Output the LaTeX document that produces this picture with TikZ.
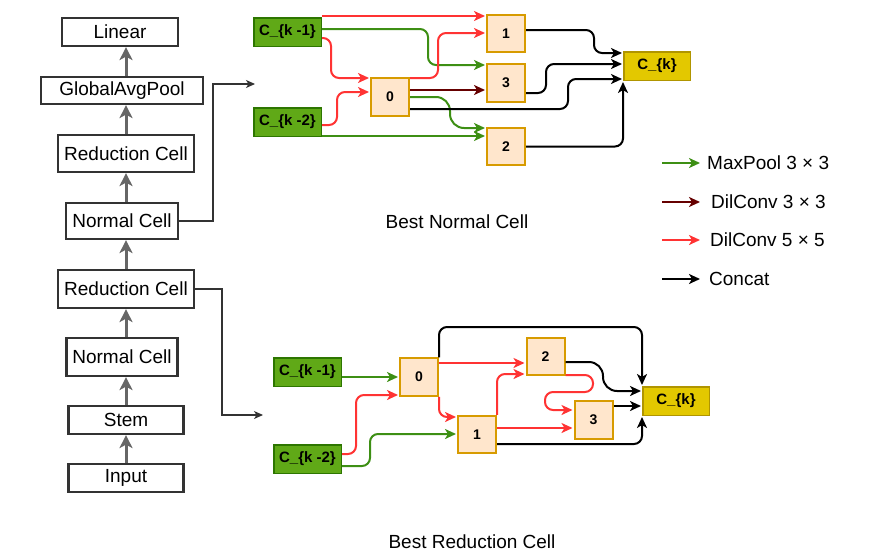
\documentclass[tikz,border=0pt]{standalone}
\usepackage{fontspec}
\setmainfont{Liberation Sans}
\usepackage{xcolor}
\usetikzlibrary{arrows.meta}
\definecolor{boxline}{HTML}{333333}
\definecolor{arrgray}{HTML}{666666}
\definecolor{infill}{HTML}{60A917}
\definecolor{inline}{HTML}{2D7600}
\definecolor{opfill}{HTML}{FFE6CC}
\definecolor{opline}{HTML}{D79B00}
\definecolor{outfill}{HTML}{E3C800}
\definecolor{outline}{HTML}{B09500}
\definecolor{pool}{HTML}{3D8F14}
\definecolor{dil}{HTML}{FF3333}
\definecolor{dildark}{HTML}{660000}

\begin{document}
\begin{tikzpicture}[x=1pt,y=-1pt,
  block/.style={draw=boxline,line width=2.2pt,fill=white,inner sep=0pt,font=\fontsize{19}{22}\selectfont},
  cellin/.style={draw=inline,line width=1.5pt,fill=infill,inner sep=0pt,minimum width=67.5pt,minimum height=28.5pt,font=\bfseries\fontsize{15}{18}\selectfont},
  op/.style={draw=opline,line width=2pt,fill=opfill,inner sep=0pt,minimum width=38pt,minimum height=37.5pt,font=\bfseries\fontsize{14}{17}\selectfont},
  cellout/.style={draw=outline,line width=1.5pt,fill=outfill,inner sep=0pt,minimum width=66.5pt,minimum height=28.5pt,font=\bfseries\fontsize{15}{18}\selectfont},
  tip/.style={-{Stealth[length=11pt,width=10pt,inset=3pt]},shorten >=1pt},
  uparrow/.style={draw=arrgray,line width=3pt,-{Stealth[length=13pt,width=13pt,inset=3.5pt]}},
  feed/.style={draw=boxline,line width=1.2pt,-{Stealth[length=9pt,width=8pt,inset=2.5pt]}},
  gedge/.style={draw=pool,line width=2pt,rounded corners=8pt,tip},
  redge/.style={draw=dil,line width=2pt,rounded corners=8pt,tip},
  dedge/.style={draw=dildark,line width=2pt,rounded corners=8pt,tip},
  kedge/.style={draw=black,line width=2pt,rounded corners=8pt,tip},
  lgtext/.style={anchor=west,inner sep=0pt,font=\fontsize{19}{22}\selectfont},
  title/.style={inner sep=0pt,font=\fontsize{19}{22}\selectfont}]
  \useasboundingbox (0,0) rectangle (873,554);

  % network stack
  \node[block,minimum width=116pt,minimum height=28pt] (linear) at (120,32) {Linear};
  \node[block,minimum width=162pt,minimum height=27pt] (gap) at (122,90.5) {GlobalAvgPool};
  \node[block,minimum width=136pt,minimum height=37pt] (redtop) at (126,153.5) {Reduction Cell};
  \node[block,minimum width=112pt,minimum height=36pt] (normtop) at (122,221) {Normal Cell};
  \node[block,minimum width=136pt,minimum height=38pt] (redlow) at (126,289) {Reduction Cell};
  \node[block,minimum width=111pt,minimum height=38pt] (normlow) at (122,357) {Normal Cell};
  \node[block,minimum width=115pt,minimum height=28pt] (stem) at (126,420) {Stem};
  \node[block,minimum width=115pt,minimum height=28pt] (input) at (126,478) {Input};
  \draw[uparrow] (input.north) -- (input.north |- stem.south);
  \draw[uparrow] (stem.north) -- (stem.north |- normlow.south);
  \draw[uparrow] (stem.north |- normlow.north) -- (stem.north |- redlow.south);
  \draw[uparrow] (redlow.north) -- (redlow.north |- normtop.south);
  \draw[uparrow] (redlow.north |- normtop.north) -- (redlow.north |- redtop.south);
  \draw[uparrow] (redlow.north |- redtop.north) -- (redlow.north |- gap.south);
  \draw[uparrow] (redlow.north |- gap.north) -- (redlow.north |- linear.south);

  % where the cells come from
  \coordinate (normin) at (255,84);  \coordinate (redin) at (263,415);
  \draw[feed] (normtop.east) -| (213,84) -- (normin);
  \draw[feed] (redlow.east) -| (222,415) -- (redin);

  % best normal cell
  \node[cellin] (nk1) at (287.5,32) {C\_\{k -1\}};
  \node[cellin] (nk2) at (287.5,122) {C\_\{k -2\}};
  \node[op] (n0) at (390,97) {0};
  \node[op] (n1) at (506,33.5) {1};
  \node[op] (n3) at (506,83) {3};
  \node[op] (n2) at (506,146.5) {2};
  \node[cellout] (nout) at (657,66) {C\_\{k\}};
  \draw[redge] (nk1.east |- 0,16) -- (n1.west |- 0,16);
  \draw[gedge] (nk1.east |- 0,29) -| (428,65) -- (n3.west |- 0,65);
  \draw[redge] (nk1.east |- 0,38) -| (331,78) -- (n0.west |- 0,78);
  \draw[redge] (nk2.east |- 0,125) -| (337,92) -- (n0.west |- 0,92);
  \draw[gedge] (nk2.east |- 0,136) -- (n2.west |- 0,136);
  \draw[redge] (n0.east |- 0,78) -| (438,33) -- (n1.west |- 0,33);
  \draw[dedge] (n0.east |- 0,90) -- (n3.west |- 0,90);
  \draw[gedge,rounded corners=14pt] (n0.east |- 0,97) -| (450,128) -- (n2.west |- 0,128);
  \draw[kedge] (n0.east |- 0,109) -| (568,79) -- (nout.west |- 0,79);
  \draw[kedge] (n1.east |- 0,30) -| (594,53) -- (nout.west |- 0,53);
  \draw[kedge] (n3.east |- 0,93) -| (546,64) -- (nout.west |- 0,64);
  \draw[kedge] (n2.east) -| (nout.south west);
  \node[title] (ntitle) at (457,222) {Best Normal Cell};

  % best reduction cell
  \node[cellin] (rk1) at (307.5,372) {C\_\{k -1\}};
  \node[cellin] (rk2) at (307.5,459) {C\_\{k -2\}};
  \node[op] (r0) at (419,377) {0};
  \node[op] (r1) at (477,434.5) {1};
  \node[op] (r2) at (545.5,356.5) {2};
  \node[op] (r3) at (593.5,420) {3};
  \node[cellout] (rout) at (676,401) {C\_\{k\}};
  \draw[gedge] (rk1.east |- r0.west) -- (r0.west);
  \draw[redge] (rk2.east |- 0,454) -| (356,395) -- (r0.west |- 0,395);
  \draw[gedge] (rk2.east |- 0,466) -| (370,434) -- (r1.west |- 0,434);
  \draw[redge] (r0.south east) |- (r1.west |- 0,417);
  \draw[redge] (r0.east |- 0,363) -- (r2.west |- 0,363);
  \draw[kedge] (r0.north east) |- (rout.north west |- 0,327) -- (rout.north west);
  \draw[redge] (r1.north east) |- (r2.west |- 0,374);
  \draw[redge] (r2.east |- 0,375) -| (593,392) -| (545,410) -- (r3.west |- 0,410);
  \draw[redge] (r1.east |- 0,428) -- (r3.west |- 0,428);
  \draw[kedge,rounded corners=14pt] (r2.east |- 0,362) -| (603,391) -- (rout.west |- 0,391);
  \draw[kedge] (r3.east |- 0,406) -- (rout.west |- 0,406);
  \draw[kedge] (r1.east |- 0,444) -| (rout.south west);
  \node[title] (rtitle) at (472,542) {Best Reduction Cell};

  % legend
  \node[lgtext] (lgpool) at (707,163) {MaxPool 3 × 3};
  \node[lgtext] (lgdil) at (711,202) {DilConv 3 × 3};
  \node[lgtext] (lgdilb) at (710,240) {DilConv 5 × 5};
  \node[lgtext] (lgcat) at (709,279) {Concat};
  \draw[gedge] (662,163) -- ([xshift=-6pt]lgpool.west);
  \draw[dedge] (662,202) -- ([xshift=-10pt]lgdil.west);
  \draw[redge] (662,240) -- ([xshift=-9pt]lgdilb.west);
  \draw[kedge] (662,279) -- ([xshift=-8pt]lgcat.west);
\end{tikzpicture}
\end{document}
